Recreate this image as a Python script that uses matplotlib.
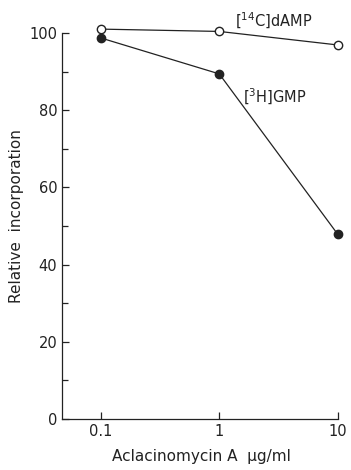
import numpy as np
import matplotlib.pyplot as plt

dose = [0.1, 1, 10]
damp = [101, 100.4, 96.9]
gmp = [98.7, 89.4, 47.9]

plt.rcParams['font.family'] = 'DejaVu Sans'
fig = plt.figure(figsize=(3.51, 4.70), dpi=100)
ax = fig.add_axes([0.177, 0.1085, 0.792, 0.8624])

ax.plot(dose, damp, '-o', color='#222222', lw=0.9, ms=6, mfc='white', mec='#222222', mew=1.0, clip_on=False, zorder=3)
ax.plot(dose, gmp, '-o', color='#222222', lw=0.9, ms=6, mfc='#222222', mec='#222222', clip_on=False, zorder=3)

ax.set_xscale('log')
ax.set_xlim(0.047, 10.5)
ax.set_ylim(0, 105)
ax.set_xticks(dose)
ax.set_xticklabels(['0.1', '1', '10'])
ax.xaxis.set_minor_locator(plt.NullLocator())
ax.set_yticks([0, 20, 40, 60, 80, 100])
ax.set_yticks([10, 30, 50, 70, 90], minor=True)

for s in ['top', 'right']:
    ax.spines[s].set_visible(False)
ax.spines['left'].set_bounds(0, 100)
ax.spines['bottom'].set_bounds(0.047, 10)
for s in ['left', 'bottom']:
    ax.spines[s].set_color('#222222')
    ax.spines[s].set_linewidth(0.9)

ax.tick_params(which='both', direction='in', colors='#222222', labelsize=10.5, width=0.9)
ax.tick_params(which='major', length=5)
ax.tick_params(which='minor', length=4)

ax.text(1.35, 101.5, r'[$^{14}$C]dAMP', fontsize=10.5, color='#222222')
ax.text(1.6, 82, r'[$^{3}$H]GMP', fontsize=10.5, color='#222222')

ax.set_ylabel('Relative  incorporation', fontsize=11, color='#222222', labelpad=4)
ax.set_xlabel('Aclacinomycin A  \u03bcg/ml', fontsize=11, color='#222222', labelpad=7)

fig.savefig('out.png', dpi=100)
